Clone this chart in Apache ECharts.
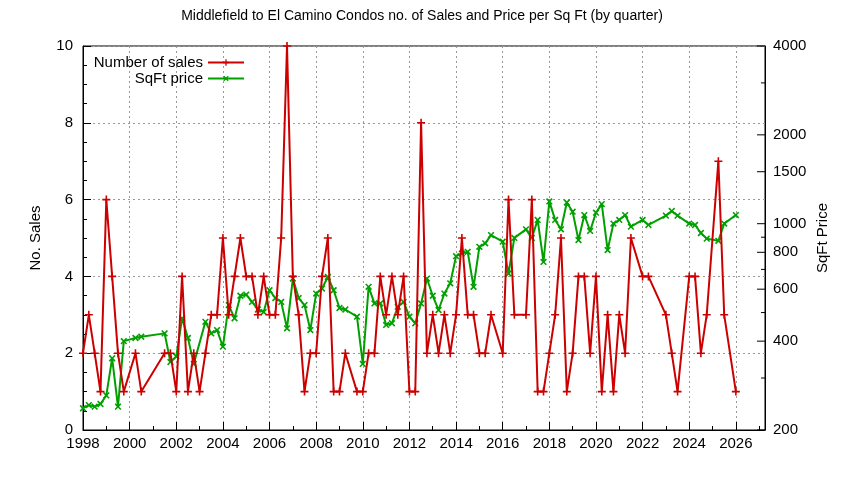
<!DOCTYPE html>
<html>
<head>
<meta charset="utf-8">
<script src="https://cdn.jsdelivr.net/npm/echarts@6/dist/echarts.min.js"></script>
<style>html,body{margin:0;background:#fff}#main{width:844px;height:480px}</style>
</head>
<body>
<div id="main"></div>
<script>
/*----- data -----*/
var quarters = [1998.0,1998.25,1998.5,1998.75,1999.0,1999.25,1999.5,1999.75,2000.25,2000.5,
	2001.5,2001.75,2002.0,2002.25,2002.5,2002.75,2003.0,2003.25,2003.5,2003.75,
	2004.0,2004.25,2004.5,2004.75,2005.0,2005.25,2005.5,2005.75,2006.0,2006.25,
	2006.5,2006.75,2007.0,2007.25,2007.5,2007.75,2008.0,2008.25,2008.5,2008.75,
	2009.0,2009.25,2009.75,2010.0,2010.25,2010.5,2010.75,2011.0,2011.25,2011.5,
	2011.75,2012.0,2012.25,2012.5,2012.75,2013.0,2013.25,2013.5,2013.75,2014.0,
	2014.25,2014.5,2014.75,2015.0,2015.25,2015.5,2016.0,2016.25,2016.5,2017.0,
	2017.25,2017.5,2017.75,2018.0,2018.25,2018.5,2018.75,2019.0,2019.25,2019.5,
	2019.75,2020.0,2020.25,2020.5,2020.75,2021.0,2021.25,2021.5,2022.0,2022.25,
	2023.0,2023.25,2023.5,2024.0,2024.25,2024.5,2024.75,2025.25,2025.5,2026.0];
var sales = [2,3,2,1,6,4,2,1,2,1,
	2,2,1,4,1,2,1,2,3,3,
	5,3,4,5,4,4,3,4,3,3,
	5,10,4,3,1,2,2,4,5,1,
	1,2,1,1,2,2,4,3,4,3,
	4,1,1,8,2,3,2,3,2,3,
	5,3,3,2,2,3,2,6,3,3,
	6,1,1,2,3,5,1,2,4,4,
	2,4,1,3,1,3,2,5,4,4,
	3,2,1,4,4,2,3,7,3,1];
var prices = [237,243,240,245,262,350,240,400,410,414,
	425,340,355,478,410,335,null,465,425,436,
	383,530,478,570,575,543,512,502,595,560,
	543,442,652,560,530,436,580,603,660,595,
	518,512,484,335,611,537,537,454,460,523,
	543,484,460,537,652,570,510,580,628,776,
	793,803,611,835,858,915,869,678,895,957,
	895,1030,742,1190,1030,957,1180,1098,880,1070,
	945,1090,1165,814,1001,1030,1070,977,1030,990,
	1065,1104,1065,1001,990,930,890,875,1001,1070];
var priceTicks = [200,400,600,800,1000,1500,2000,4000];

var salesData = [];
var priceData = [];
for(var i = 0; i < quarters.length; i++){
	salesData.push([quarters[i], sales[i]]);
	priceData.push([quarters[i], prices[i] == null ? null : Math.log10(prices[i])]);
}

var plus = 'path://M4,0h2v4h4v2h-4v4h-2v-4h-4v-2h4z';
var font = 'Liberation Sans';
var chart = echarts.init(document.getElementById('main'));
var option = {
	animation: false,
	textStyle: {fontFamily: font},
	title: {
		text: 'Middlefield to El Camino Condos no. of Sales and Price per Sq Ft (by quarter)',
		left: 'center', top: 4,
		textStyle: {fontSize: 14, fontWeight: 'normal', color: '#000', fontFamily: font}
	},
	grid: {left: 83, right: 79, top: 46, bottom: 50, show: true, borderColor: '#000', borderWidth: 1},
	legend: [
		{data: ['Number of sales'], align: 'right', right: 594, top: 50, itemWidth: 36, itemHeight: 8,
			textStyle: {fontSize: 15, color: '#000', fontFamily: font}},
		{data: ['SqFt price'], align: 'right', right: 594, top: 66, itemWidth: 36, itemHeight: 8,
			textStyle: {fontSize: 15, color: '#000', fontFamily: font}}
	],
	xAxis: {
		type: 'value', min: 1998, max: 2027.25, interval: 2,
		axisLine: {lineStyle: {color: '#000'}},
		axisTick: {inside: true, length: 8, lineStyle: {color: '#000'}},
		minorTick: {show: true, splitNumber: 2, length: 4, lineStyle: {color: '#000'}},
		axisLabel: {color: '#000', fontSize: 15, margin: 6, fontFamily: font,
			formatter: function(v){ return v <= 2026 ? String(v) : ''; }},
		splitLine: {lineStyle: {color: '#999', type: [2, 3]}}
	},
	yAxis: [
		{
			type: 'value', min: 0, max: 10, interval: 2,
			name: 'No. Sales', nameLocation: 'center', nameGap: 40,
			nameTextStyle: {fontSize: 15, color: '#000', fontFamily: font},
			axisLine: {show: true, lineStyle: {color: '#000'}},
			axisTick: {inside: true, length: 8, lineStyle: {color: '#000'}},
			minorTick: {show: true, splitNumber: 4, length: 4, lineStyle: {color: '#000'}},
			axisLabel: {color: '#000', fontSize: 15, margin: 10, fontFamily: font},
			splitLine: {lineStyle: {color: '#999', type: [2, 3]}}
		},
		{
			type: 'value', min: Math.log10(200), max: Math.log10(4000),
			position: 'right',
			name: 'SqFt Price', nameLocation: 'center', nameGap: 50,
			nameTextStyle: {fontSize: 15, color: '#000', fontFamily: font},
			axisLine: {show: true, lineStyle: {color: '#000'}},
			axisTick: {show: false}, axisLabel: {show: false}, splitLine: {show: false}
		}
	],
	series: [
		{
			name: 'Number of sales', type: 'line', data: salesData,
			color: '#cc0000', lineStyle: {width: 2}, symbol: plus, symbolSize: 8, z: 3
		},
		{
			name: 'SqFt price', type: 'line', yAxisIndex: 1, data: priceData, connectNulls: true,
			color: '#00a000', lineStyle: {width: 2}, symbol: plus, symbolRotate: 45, symbolSize: 8, z: 2
		}
	]
};
chart.setOption(option);

// right log axis labels and ticks placed through the axis scale
var gfx = [];
var xr = chart.convertToPixel({xAxisIndex: 0}, 2027.25);
for(var k = 0; k < priceTicks.length; k++){
	var py = chart.convertToPixel({yAxisIndex: 1}, Math.log10(priceTicks[k]));
	gfx.push({type: 'line', shape: {x1: xr - 8, y1: py, x2: xr, y2: py}, style: {stroke: '#000', lineWidth: 1}});
	gfx.push({type: 'text', x: xr + 8, y: py, style: {text: String(priceTicks[k]), fill: '#000',
		font: '15px ' + font, textVerticalAlign: 'middle'}});
}
for(var m = 300; m < 4000; m += (m < 1000 ? 100 : 1000)){
	if(priceTicks.indexOf(m) >= 0) continue;
	var my = chart.convertToPixel({yAxisIndex: 1}, Math.log10(m));
	gfx.push({type: 'line', shape: {x1: xr - 4, y1: my, x2: xr, y2: my}, style: {stroke: '#000', lineWidth: 1}});
}
chart.setOption({graphic: gfx});
</script>
</body>
</html>
